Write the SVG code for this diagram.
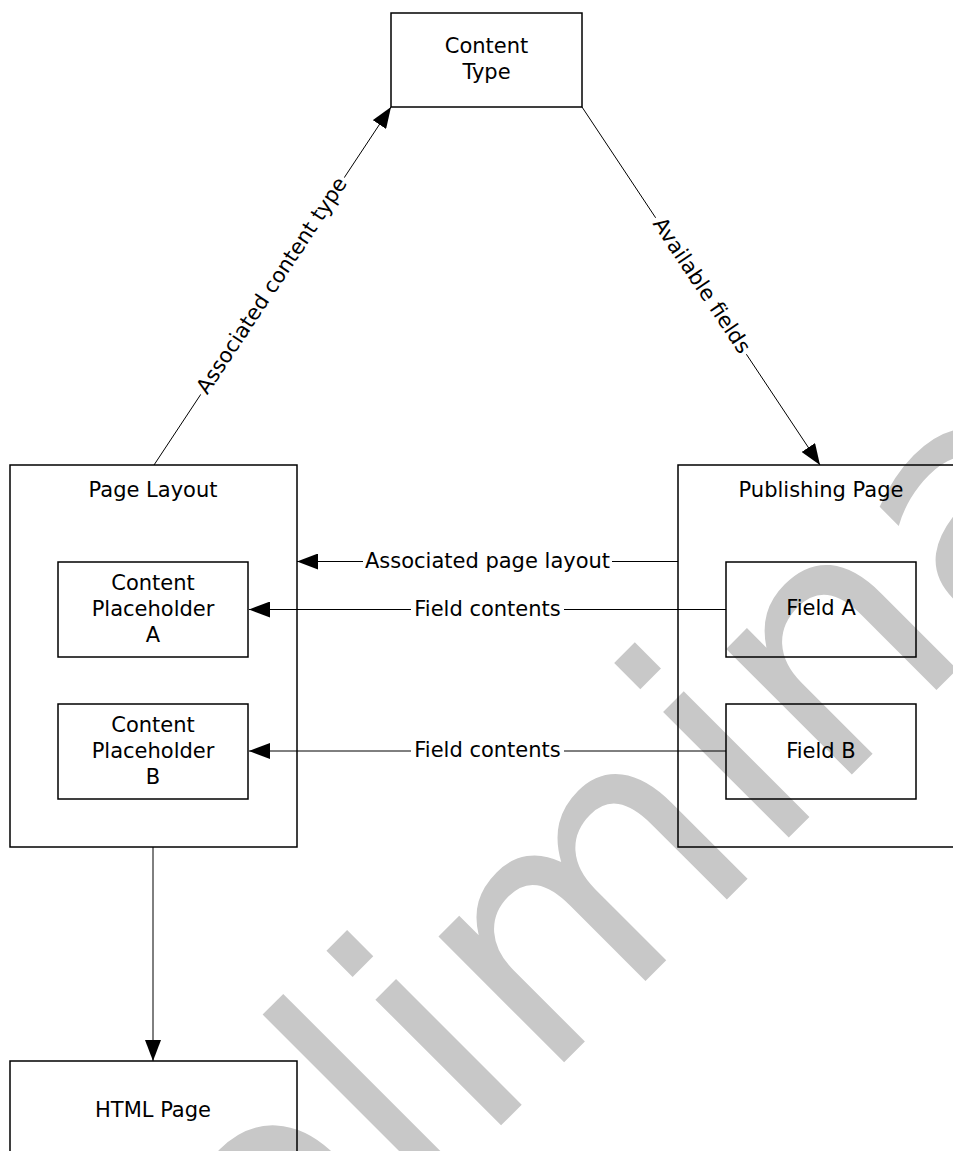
<svg xmlns="http://www.w3.org/2000/svg" width="953" height="1151" viewBox="0 0 953 1151">
  <style>
    .box { fill: none; stroke: #000; stroke-width: 1.5; }
    .lbl { font-family: "DejaVu Sans", Verdana, sans-serif; font-size: 21px; fill: #000; text-anchor: middle; }
    .conn { stroke: #000; stroke-width: 1; fill: none; marker-end: url(#arrow); }
    .bg { fill: #fff; }
    .wm { font-family: "DejaVu Sans", Verdana, sans-serif; font-size: 325px; fill: #c8c8c8; }
  </style>
  <defs>
    <marker id="arrow" markerUnits="userSpaceOnUse" markerWidth="22" markerHeight="16" refX="21" refY="8" orient="auto">
      <path d="M0,0 L21,8 L0,16 Z" fill="#000"/>
    </marker>
  </defs>
  <rect x="0" y="0" width="953" height="1151" fill="#fff"/>

  <g id="watermark">
    <text class="wm" transform="translate(50.2,1576.2) rotate(-45)">Preliminary</text>
  </g>

  <g id="connectors">
    <line class="conn" x1="154" y1="465" x2="391" y2="107"/>
    <line class="conn" x1="582" y1="107" x2="820" y2="465"/>
    <line class="conn" x1="678" y1="561.5" x2="297" y2="561.5"/>
    <line class="conn" x1="726" y1="609.5" x2="249" y2="609.5"/>
    <line class="conn" x1="726" y1="751" x2="249" y2="751"/>
    <line class="conn" x1="153" y1="847" x2="153" y2="1061"/>
    <g transform="translate(272.5,286) rotate(-56.5)">
      <rect class="bg" x="-130" y="-10" width="260" height="20"/>
      <text class="lbl" x="0" y="6">Associated content type</text>
    </g>
    <g transform="translate(701,286) rotate(56.3)">
      <rect class="bg" x="-82" y="-10" width="164" height="20"/>
      <text class="lbl" x="0" y="6">Available fields</text>
    </g>
    <rect class="bg" x="363" y="552" width="249" height="20"/>
    <text class="lbl" x="487.5" y="567.5">Associated page layout</text>
    <rect class="bg" x="411" y="600" width="153" height="20"/>
    <text class="lbl" x="487.5" y="615.5">Field contents</text>
    <rect class="bg" x="411" y="741" width="153" height="20"/>
    <text class="lbl" x="487.5" y="757">Field contents</text>
  </g>

  <g id="content-type">
    <rect class="box" x="391" y="13" width="191" height="94"/>
    <text class="lbl" x="486.5" y="53">Content</text>
    <text class="lbl" x="486.5" y="79">Type</text>
  </g>

  <g id="page-layout">
    <rect class="box" x="10" y="465" width="287" height="382"/>
    <text class="lbl" x="153" y="497">Page Layout</text>
  </g>

  <g id="content-placeholder-a">
    <rect class="box" x="58" y="562" width="190" height="95"/>
    <text class="lbl" x="153" y="590">Content</text>
    <text class="lbl" x="153" y="616">Placeholder</text>
    <text class="lbl" x="153" y="642">A</text>
  </g>

  <g id="content-placeholder-b">
    <rect class="box" x="58" y="704" width="190" height="95"/>
    <text class="lbl" x="153" y="732">Content</text>
    <text class="lbl" x="153" y="758">Placeholder</text>
    <text class="lbl" x="153" y="784">B</text>
  </g>

  <g id="publishing-page">
    <rect class="box" x="678" y="465" width="287" height="382"/>
    <text class="lbl" x="821" y="497">Publishing Page</text>
  </g>

  <g id="field-a">
    <rect class="box" x="726" y="562" width="190" height="95"/>
    <text class="lbl" x="821" y="615">Field A</text>
  </g>

  <g id="field-b">
    <rect class="box" x="726" y="704" width="190" height="95"/>
    <text class="lbl" x="821" y="758">Field B</text>
  </g>

  <g id="html-page">
    <rect class="box" x="10" y="1061" width="287" height="382"/>
    <text class="lbl" x="153" y="1117">HTML Page</text>
  </g>
</svg>
